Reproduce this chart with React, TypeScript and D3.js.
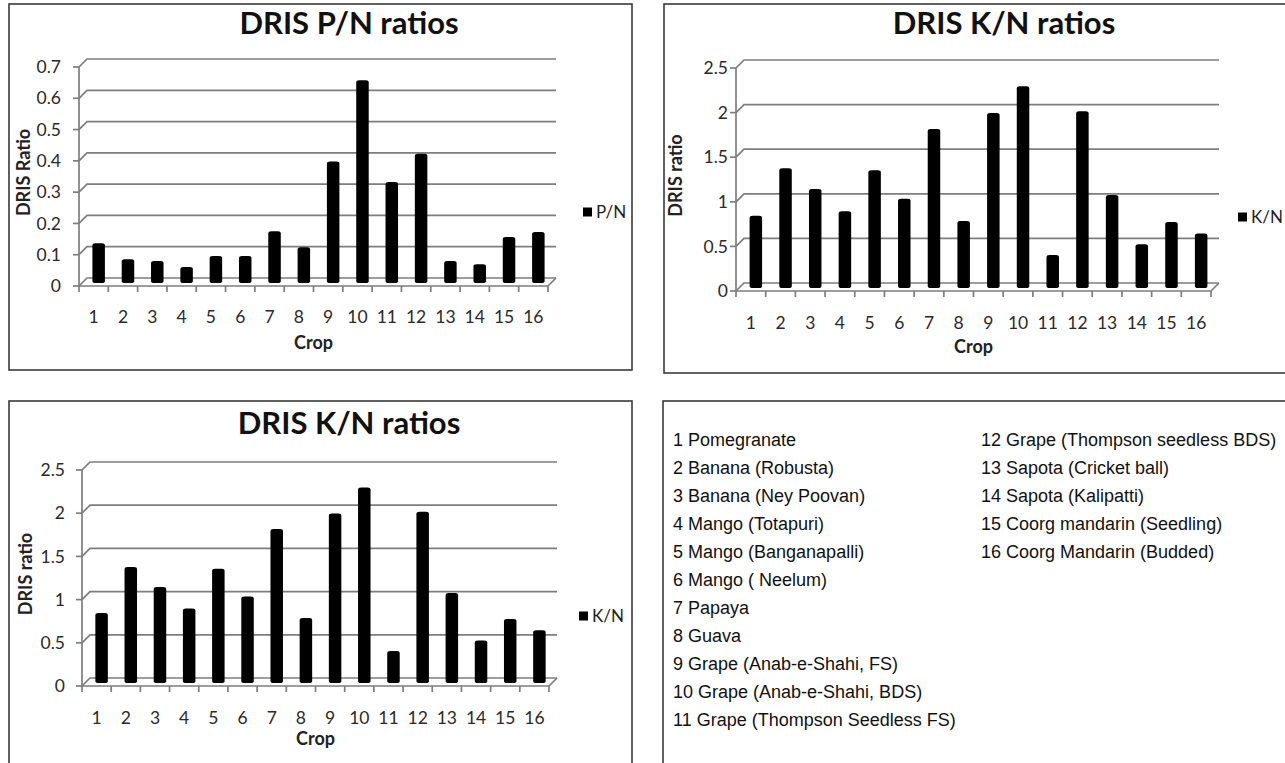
import React from 'react';
import * as d3 from 'd3';

// crop numbers 1..16
const crops = d3.range(1, 17).map(String);

// DRIS ratios
const pnValues = [0.124, 0.073, 0.067, 0.048, 0.083, 0.083, 0.162, 0.111, 0.385, 0.645, 0.32, 0.41, 0.067, 0.057, 0.144, 0.16];
const knValues = [0.8, 1.33, 1.1, 0.85, 1.31, 0.99, 1.77, 0.74, 1.95, 2.25, 0.36, 1.97, 1.03, 0.48, 0.73, 0.6];

const pnTicks = [0, 0.1, 0.2, 0.3, 0.4, 0.5, 0.6, 0.7];
const knTicks = [0, 0.5, 1, 1.5, 2, 2.5];

const cropNames = [
  '1 Pomegranate',
  '2 Banana (Robusta)',
  '3 Banana (Ney Poovan)',
  '4 Mango (Totapuri)',
  '5 Mango (Banganapalli)',
  '6 Mango ( Neelum)',
  '7 Papaya',
  '8 Guava',
  '9 Grape (Anab-e-Shahi, FS)',
  '10 Grape (Anab-e-Shahi, BDS)',
  '11 Grape (Thompson Seedless FS)',
  '12 Grape (Thompson seedless BDS)',
  '13 Sapota (Cricket ball)',
  '14 Sapota (Kalipatti)',
  '15 Coorg mandarin (Seedling)',
  '16 Coorg Mandarin (Budded)',
];

const FONT = 'Lato, "Open Sans", sans-serif';
const GRID = '#7e7e7e';
const DX = 8;
const DY = -8;

type Layout = {
  bx: number; by: number; bw: number; bh: number;
  x0: number; x1: number; y0: number; yTop: number;
  titleY: number; labelRight: number; yTitleX: number;
  xLabelY: number; cropY: number; legX: number; legY: number;
};

const Chart = ({ title, yTitle, legend, values, ticks, L }: {
  title: string; yTitle: string; legend: string; values: number[]; ticks: number[]; L: Layout;
}) => {
  const max = ticks[ticks.length - 1];
  const y = d3.scaleLinear().domain([0, max]).range([L.y0, L.yTop]);
  const x = d3.scaleBand<string>().domain(crops).range([L.x0, L.x1]);
  const bw = 12.5;
  const base = L.y0 + DY / 2;

  return (
    <g>
      <rect x={L.bx} y={L.by} width={L.bw} height={L.bh} fill="white" stroke="#3a3a3a" strokeWidth={1.6} />
      <text x={L.bx + 340} y={L.titleY} textAnchor="middle" fontFamily={FONT} fontWeight="bold" fontSize={31} fill="#111">{title}</text>

      {/* back wall gridlines with the side wall diagonal */}
      {ticks.map(t => (
        <path key={'g' + t}
          d={`M${L.x0},${y(t)} L${L.x0 + DX},${y(t) + DY} L${L.x1 + DX},${y(t) + DY}`}
          fill="none" stroke={GRID} strokeWidth={1.7} />
      ))}
      {/* floor front edge */}
      <path d={`M${L.x0},${L.y0} L${L.x1},${L.y0} L${L.x1 + DX},${L.y0 + DY}`} fill="none" stroke={GRID} strokeWidth={1.7} />
      {/* y axis */}
      <line x1={L.x0} x2={L.x0} y1={L.yTop} y2={L.y0} stroke={GRID} strokeWidth={1.7} />
      {ticks.map(t => (
        <g key={'yt' + t}>
          <line x1={L.x0 - 6} x2={L.x0} y1={y(t)} y2={y(t)} stroke={GRID} strokeWidth={1.7} />
          <text x={L.labelRight} y={y(t)} dy="0.35em" textAnchor="end" fontFamily={FONT} fontSize={17.5} fill="#2a2a2a">{String(t)}</text>
        </g>
      ))}
      {/* x ticks at band edges */}
      {d3.range(crops.length + 1).map(i => {
        const xx = L.x0 + i * x.bandwidth();
        return <line key={'xt' + i} x1={xx} x2={xx} y1={L.y0} y2={L.y0 + 6} stroke={GRID} strokeWidth={1.7} />;
      })}
      {crops.map(c => (
        <text key={'xl' + c} x={(x(c) ?? 0) + x.bandwidth() / 2} y={L.xLabelY} dy="0.35em" textAnchor="middle" fontFamily={FONT} fontSize={17.5} fill="#2a2a2a">{c}</text>
      ))}

      {/* bars */}
      {values.map((v, i) => {
        const cx = (x(crops[i]) ?? 0) + x.bandwidth() / 2 + DX / 2 + 1;
        const top = base - (L.y0 - y(v));
        return <rect key={'b' + i} x={cx - bw / 2} y={top} width={bw} height={base - top + 1} rx={3} ry={2} fill="#000" />;
      })}

      <text transform={`translate(${L.yTitleX},${(L.yTop + L.y0) / 2 - 4}) rotate(-90)`} dy="0.35em" textAnchor="middle" fontFamily={FONT} fontWeight="bold" fontSize={18} fill="#222">{yTitle}</text>
      <text x={(L.x0 + L.x1) / 2} y={L.cropY} dy="0.35em" textAnchor="middle" fontFamily={FONT} fontWeight="bold" fontSize={18} fill="#222">Crop</text>

      <rect x={L.legX} y={L.legY - 4.5} width={9} height={9} fill="#000" />
      <text x={L.legX + 13} y={L.legY} dy="0.35em" fontFamily={FONT} fontSize={17} fill="#222">{legend}</text>
    </g>
  );
};

const topLeft: Layout = {
  bx: 9, by: 4, bw: 623, bh: 366, x0: 79, x1: 548, y0: 286, yTop: 67,
  titleY: 34, labelRight: 61, yTitleX: 24, xLabelY: 317, cropY: 343, legX: 583, legY: 212,
};
const topRight: Layout = {
  bx: 664, by: 4, bw: 640, bh: 369, x0: 736, x1: 1211, y0: 291, yTop: 68,
  titleY: 34, labelRight: 728, yTitleX: 676, xLabelY: 323, cropY: 347, legX: 1238, legY: 217,
};
const bottomLeft: Layout = {
  bx: 9, by: 401, bw: 623, bh: 400, x0: 82, x1: 549, y0: 686, yTop: 470,
  titleY: 434, labelRight: 65, yTitleX: 26, xLabelY: 718, cropY: 739, legX: 579, legY: 616,
};

export default function App() {
  const col1 = cropNames.slice(0, 11);
  const col2 = cropNames.slice(11);
  return (
    <svg width={1285} height={763} style={{ position: 'absolute', left: 0, top: 0, background: 'white' }}>
      <rect width={1285} height={763} fill="white" />
      <Chart title="DRIS P/N ratios" yTitle="DRIS Ratio" legend="P/N" values={pnValues} ticks={pnTicks} L={topLeft} />
      <Chart title="DRIS K/N ratios" yTitle="DRIS ratio" legend="K/N" values={knValues} ticks={knTicks} L={topRight} />
      <Chart title="DRIS K/N ratios" yTitle="DRIS ratio" legend="K/N" values={knValues} ticks={knTicks} L={bottomLeft} />

      <rect x={663} y={401} width={640} height={400} fill="white" stroke="#3a3a3a" strokeWidth={1.6} />
      {col1.map((t, i) => (
        <text key={t} x={673} y={440 + i * 28} dy="0.35em" fontFamily='"Liberation Sans", Arial, sans-serif' fontSize={18} fill="#111">{t}</text>
      ))}
      {col2.map((t, i) => (
        <text key={t} x={981} y={440 + i * 28} dy="0.35em" fontFamily='"Liberation Sans", Arial, sans-serif' fontSize={18} fill="#111">{t}</text>
      ))}
    </svg>
  );
}
